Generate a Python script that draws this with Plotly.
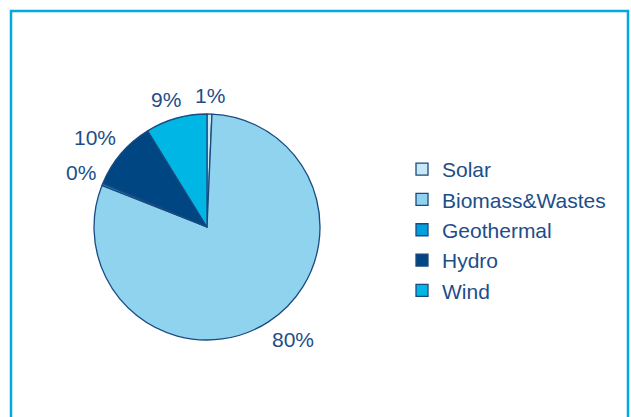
import math
import plotly.graph_objects as go

# Renewable energy mix (share of total renewable supply, %)
sources = ["Solar", "Biomass&Wastes", "Geothermal", "Hydro", "Wind"]
shares = [0.7, 80.3, 0.3, 9.9, 8.8]
colors = ["#c8e8f4", "#8fd3ee", "#00a0dc", "#004682", "#00b6e4"]

text_color = "#1d4e89"
outline = "#1a4a80"
W, H = 631, 417

# pie placement in pixels
cx, cy, r = 207, 227, 113
label_size = 21

fig = go.Figure(
    go.Pie(
        labels=sources,
        values=shares,
        sort=False,
        direction="clockwise",
        rotation=0,
        marker=dict(colors=colors, line=dict(color=outline, width=1.3)),
        textinfo="none",
        hoverinfo="label+percent",
        domain=dict(
            x=[(cx - r) / W, (cx + r) / W],
            y=[(H - cy - r) / H, (H - cy + r) / H],
        ),
    )
)


def text_width(s, size):
    # rough Arial advance widths
    widths = {"%": 0.889}
    return sum(widths.get(ch, 0.556) for ch in s) * size


def soft(t):
    return max(-1.0, min(1.0, t / 0.5))


# percentage labels placed just outside each slice, at its mid angle
total = sum(shares)
annotations = []
cum = 0.0
pad, box_h = 7, 24
for v in shares:
    mid = (cum + v / 2) / total * 2 * math.pi
    cum += v
    ux, uy = math.sin(mid), -math.cos(mid)
    txt = f"{round(v / total * 100):.0f}%"
    w = text_width(txt, label_size)
    px = cx + (r + pad) * ux + w / 2 * soft(ux)
    py = cy + (r + pad) * uy + box_h / 2 * soft(uy)
    annotations.append(
        dict(
            x=px / W,
            y=1 - py / H,
            xref="paper",
            yref="paper",
            text=txt,
            showarrow=False,
            xanchor="center",
            yanchor="middle",
            font=dict(size=label_size, color=text_color),
        )
    )

fig.update_layout(
    width=W,
    height=H,
    margin=dict(l=0, r=0, t=0, b=0),
    paper_bgcolor="white",
    font=dict(family="Liberation Sans, Arial, sans-serif", color=text_color),
    annotations=annotations,
    legend=dict(
        x=402 / W,
        y=(H - 149) / H,
        xanchor="left",
        yanchor="top",
        font=dict(size=21, color=text_color),
        tracegroupgap=0,
    ),
    shapes=[
        dict(
            type="rect",
            xref="paper",
            yref="paper",
            x0=11 / W,
            x1=628 / W,
            y0=-0.1,
            y1=(H - 11) / H,
            line=dict(color="#00a9e0", width=2.5),
            fillcolor="rgba(0,0,0,0)",
            layer="below",
        )
    ],
)

fig.write_html("out.html")
